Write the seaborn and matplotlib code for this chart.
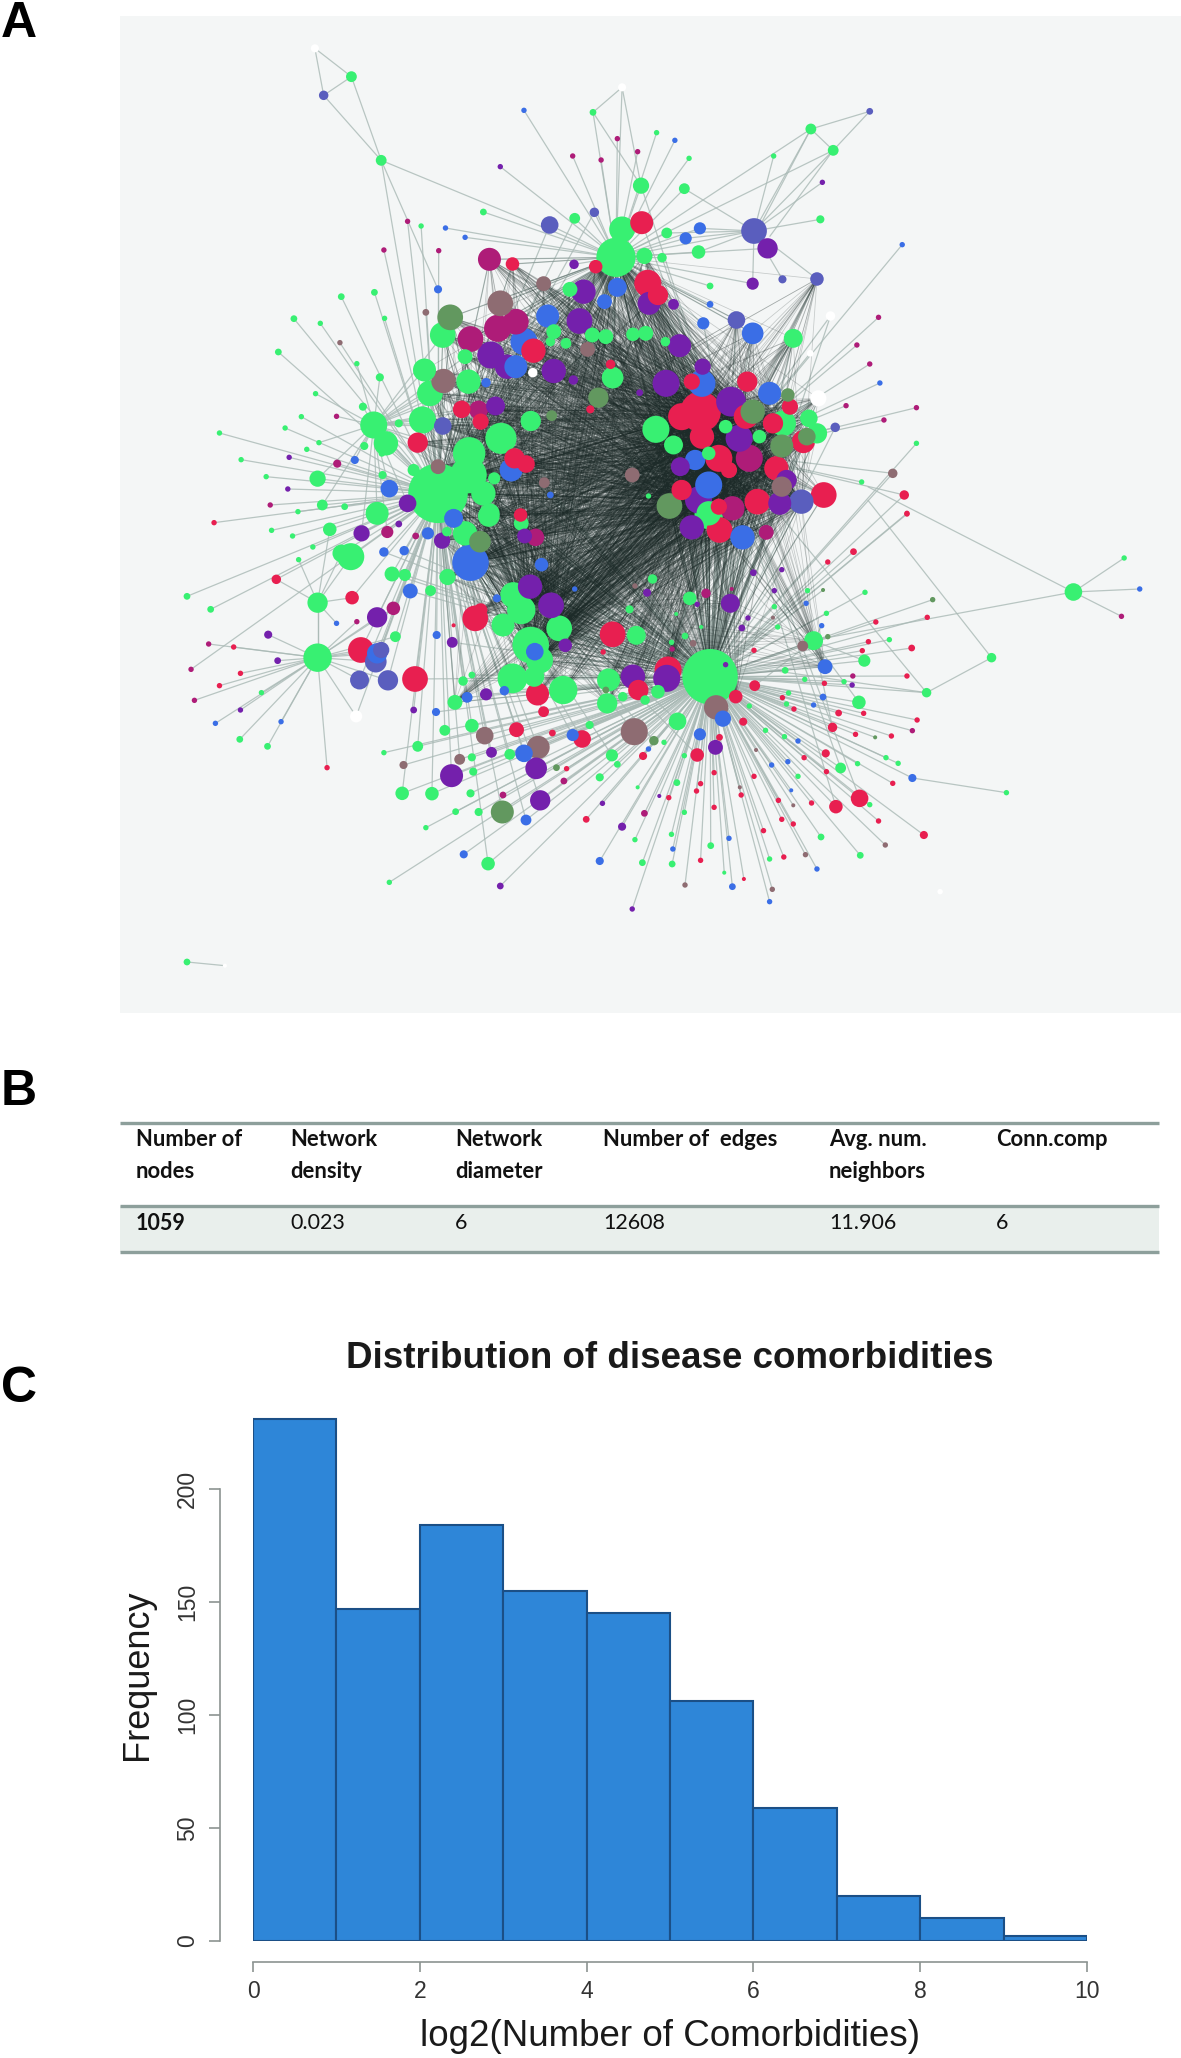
import numpy as np
import pandas as pd
import matplotlib.pyplot as plt
import seaborn as sns
from matplotlib.collections import LineCollection

W, H = 1181, 2058

# network nodes as (x, y, diameter) in layout units, upper half of the layout
green_up = [(342,170,16),(386,421,16),(699,277,10),(793,338,8),(841,415,8),(770,497,24),(834,506,16),(1021,327,16),(1054,391,16),(966,408,8),
    (1035,598,12),(537,576,10),(445,618,8),(672,595,16),(742,628,38),(733,712,58),(808,639,16),(775,708,24),(801,713,14),(855,696,20),
    (665,808,22),(872,798,10),(327,830,10),(376,817,10),(257,896,10),(296,910,8),(391,895,8),(234,996,10),(350,1031,8),(384,1072,12),
    (289,1121,8),(359,1160,12),(268,1190,8),(244,1224,8),(147,1239,8),(179,1319,8),(294,1268,8),(276,1288,8),(361,1278,12),(387,1300,10),
    (412,1210,12),(375,1215,40),(393,1270,36),(477,945,38),(510,1010,22),(450,1050,34),(515,1085,36),(458,1120,38),(447,1200,40),(563,1255,46),
    (607,1203,30),(516,1300,48),(515,1365,54),(553,1375,18),(537,1420,36),(470,1420,88),(292,1376,24),(216,1370,8),(388,1365,12),(434,1350,18),
    (299,1455,16),(332,1460,10),(263,1475,8),(380,1480,34),(546,1480,30),(641,935,22),(636,965,14),(659,970,16),(698,945,22),(718,950,22),
    (758,943,20),(777,940,22),(806,965,14),(995,955,28),(728,1073,32),(792,1228,40),(818,1275,28),(980,1210,38),(1018,1195,26),(1030,1240,30),
    (1096,1386,8),(1177,1270,8),(781,1428,8),(870,1480,36),(895,1220,20),(945,1250,20),(870,1300,20)]
red_up = [(771,608,34),(580,732,20),(703,740,20),(780,790,40),(795,825,30),(725,1033,14),(611,992,36),(695,1168,12),(505,1168,26),(533,1205,24),
    (440,1268,30),(583,1315,30),(600,1332,26),(927,1085,30),(845,1085,24),(858,1175,60),(830,1190,40),(885,1315,40),(860,1250,36),(925,1190,36),
    (965,1210,30),(990,1160,24),(1010,1265,34),(942,1445,38),(1040,1425,38),(1159,1425,14),(1163,1480,8),(970,1345,36),(900,1350,24),(830,1410,30),(885,1460,24)]
magenta_up = [(546,718,34),(390,690,8),(471,692,8),(425,604,8),(735,356,8),(669,408,8),(711,420,8),(765,395,8),(518,957,38),(558,925,40),
    (585,905,38),(320,1189,8),(321,1331,12),(222,1455,8),(1121,892,8),(1089,975,8),(1108,1032,8),(1177,1163,8),(1129,1200,8),(930,1315,40),
    (905,1465,36),(1073,1157,8),(530,1170,28)]
purple_up = [(957,685,30),(562,440,8),(1038,487,8),(935,791,18),(818,853,16),(782,850,34),(685,815,36),(679,903,38),(671,733,14),(827,977,34),
    (548,1005,40),(572,1040,36),(641,1053,36),(670,1080,14),(807,1090,40),(861,1040,24),(903,1145,44),(768,1118,10),(555,1158,28),(250,1312,8),
    (248,1407,8),(425,1450,26),(915,1255,40),(828,1340,28),(855,1440,40),(975,1450,34),(985,1380,30)]
blue_up = [(597,271,8),(820,361,8),(857,625,18),(836,655,18),(481,624,8),(510,652,8),(1156,674,8),(470,808,12),(735,802,28),(716,845,22),
    (872,853,10),(632,888,34),(862,910,18),(935,940,32),(597,965,40),(585,1040,34),(541,1088,14),(860,1090,40),(960,1120,34),(1123,1089,8),
    (398,1406,26),(347,1320,12),(578,1350,34),(636,1425,10),(850,1320,30),(870,1395,40)]
slate_up = [(301,226,14),(1108,274,10),(635,615,26),(701,577,14),(937,633,38),(979,778,12),(1030,777,20),(911,900,26),(477,1218,26),(1057,1222,14),(1007,1445,36)]
brown_up = [(626,791,22),(562,850,38),(452,877,10),(325,968,8),(691,988,22),(478,1083,36),(470,1340,22),(757,1365,22),(627,1388,16),(1142,1360,14),(978,1400,30)]
olive_up = [(488,892,38),(707,1133,30),(638,1187,16),(935,1175,36),(978,1278,34),(987,1125,20),(1015,1250,26),(812,1458,38)]
white_up = [(288,85,12),(742,202,12),(1050,888,14),(1020,1000,10),(1032,1135,24),(610,1058,14)]

# lower half of the layout, y counted from LOW_OFFSET
LOW_OFFSET = 1440
green_low = [(1409,276,26),(1484,174,8),(1288,473,14),(1192,578,14),(1310,878,8),(1101,277,8),(1016,272,8),(967,320,8),(1044,340,8),(972,381,8),
    (1137,419,8),(1025,422,28),(1100,482,18),(1012,538,8),(983,511,10),(1070,545,8),(1092,607,20),(988,579,8),(985,612,8),(930,618,8),
    (872,530,82),(842,295,20),(787,237,14),(753,328,12),(822,342,6),(859,381,6),(835,408,10),(815,427,8),(763,406,28),(722,540,34),
    (720,610,30),(655,570,42),(649,385,38),(607,435,54),(620,480,40),(580,535,44),(612,530,30),(593,330,42),(566,375,34),(581,285,38),
    (484,231,24),(459,272,16),(402,222,22),(421,225,18),(341,170,40),(327,160,26),(310,88,20),(255,108,8),(224,91,8),(285,141,8),
    (264,179,8),(99,289,10),(134,328,10),(292,308,30),(292,473,42),(209,578,8),(177,718,10),(218,739,10),(390,758,8),(407,410,16),
    (507,543,14),(520,525,10),(495,607,22),(480,691,16),(520,677,20),(440,739,16),(417,880,20),(461,881,20),(522,815,12),(520,772,12),
    (518,880,12),(496,935,10),(530,936,12),(452,983,8),(398,1147,8),(544,1091,20),(576,763,16),(727,766,18),(735,793,10),(709,832,12),
    (765,862,6),(804,727,8),(824,664,26),(694,675,12),(743,590,14),(834,767,8),(823,848,10),(834,937,8),(815,1003,8),(873,1037,10),
    (761,1019,8),(772,1088,10),(816,1092,10),(893,1118,6),(960,1077,8),(1036,1011,10),(1094,1066,10),(1108,914,8),(1065,804,16),(1002,829,8),
    (982,710,8),(954,691,8),(1132,773,8),(1150,790,8),(1090,791,8),(795,575,20),(776,600,14),(510,100,36),(483,95,14),(545,48,32),(593,70,22),(870,45,42),(99,1386,10)]
red_low = [(886,90,38),(1163,42,8),(1084,155,10),(1046,186,8),(592,45,20),(231,238,14),(343,293,20),(139,68,8),(525,355,38),(533,330,20),
    (728,403,38),(714,456,8),(493,376,6),(356,450,38),(436,537,38),(617,582,34),(766,570,30),(810,510,40),(938,557,16),(910,590,20),
    (921,665,12),(626,635,16),(683,717,26),(586,689,22),(773,768,12),(886,712,10),(853,765,20),(1041,550,8),(1117,366,8),(1193,352,8),
    (1170,444,10),(1106,425,8),(1097,452,8),(1163,528,8),(979,593,8),(996,627,8),(1062,639,10),(1099,640,8),(1053,682,14),(1178,660,8),
    (1087,703,8),(1140,708,8),(1043,760,12),(1011,773,8),(1044,815,8),(1142,850,8),(1093,895,26),(1058,920,20),(1022,909,8),(973,901,8),
    (1121,963,8),(1188,1005,12),(995,972,8),(978,958,8),(951,992,8),(981,1071,8),(858,1081,8),(922,1137,6),(878,922,8),(937,829,8),
    (918,885,8),(858,851,8),(852,873,8),(878,818,8),(811,893,8),(689,958,10),(660,806,8),(306,803,8),(147,557,8),(178,520,8),(168,441,8),(937,451,8),(639,699,10)]
magenta_low = [(395,96,18),(437,108,10),(955,97,22),(614,112,26),(404,325,20),(350,365,8),(105,508,8),(110,601,8),(131,432,8),(1171,692,8),
    (1083,528,8),(866,280,14),(904,267,6),(816,447,8),(775,940,10),(656,843,10),(566,885,10),(1480,349,8)]
purple_low = [(357,100,24),(412,72,10),(476,122,24),(598,108,22),(845,82,36),(606,260,36),(637,316,38),(658,436,20),(758,530,36),(808,535,40),
    (880,742,22),(549,757,16),(541,583,18),(490,827,34),(615,805,32),(621,901,30),(434,630,10),(491,427,16),(380,352,30),(219,404,12),
    (233,482,10),(178,630,8),(936,218,10),(978,209,8),(967,272,8),(902,310,28),(779,278,12),(853,313,8),(928,354,8),(919,384,10),
    (895,494,8),(562,1158,10),(757,1227,8),(742,980,12),(713,910,8),(797,888,6),(1082,555,8)]
blue_low = [(920,112,36),(493,55,28),(455,100,18),(390,156,14),(420,152,14),(518,188,54),(623,194,20),(429,273,22),(557,295,12),(613,455,26),
    (468,405,12),(320,370,8),(380,460,30),(513,592,16),(467,636,12),(568,572,14),(669,705,18),(597,760,26),(857,703,18),(891,656,24),
    (781,747,8),(1042,500,22),(1039,591,10),(1025,615,8),(1014,310,8),(1037,377,8),(1171,834,12),(1002,723,8),(987,785,8),(963,795,8),
    (992,871,6),(900,1015,8),(817,1047,8),(1030,1107,8),(905,1160,10),(960,1205,8),(709,1083,12),(600,960,16),(508,1063,12),(141,670,8),
    (238,665,8),(1507,267,8),(672,267,8)]
slate_low = [(354,540,28),(396,541,30),(378,485,32),(386,450,24)]
brown_low = [(1009,438,16),(965,353,6),(881,622,36),(760,695,40),(539,707,26),(618,742,34),(502,778,16),(419,795,12),(1013,1064,8),(1131,1035,8),
    (964,1168,8),(835,1155,8),(916,862,6),(995,916,6),(940,750,6),(761,258,8),(847,430,10)]
olive_low = [(532,125,32),(565,936,34),(789,722,14),(1201,299,8),(1116,712,6),(718,570,10),(645,803,10),(1046,410,8),(1039,270,6)]
white_low = [(349,649,18),(1212,1175,8),(155,1397,6)]

node_colors = {"green": "#38f072", "red": "#e81f50", "magenta": "#ae1c78", "purple": "#7420ac",
               "blue": "#3a6ee6", "slate": "#5a5ebe", "brown": "#8e6c72", "olive": "#62985f", "white": "#ffffff"}

# hubs that the small nodes hang from: x, y, pull
hub_x = [872, 470, 733, 292, 292, 900, 375, 937, 1025]
hub_y = [1970, 1420, 712, 1913, 1748, 1300, 1215, 633, 1862]
hub_pull = [3.0, 2.2, 1.5, 0.9, 0.7, 1.8, 1.0, 0.7, 0.6]

# small outlying pieces drawn by hand
extra_edges = [((288,85),(342,170)),((288,85),(301,226)),((301,226),(342,170)),((301,226),(386,421)),((342,170),(386,421)),((386,421),(470,808)),
    ((742,202),(699,277)),((742,202),(770,497)),((699,277),(770,497)),((1108,274),(1021,327)),((1108,274),(1054,391)),((1021,327),(1054,391)),
    ((1021,327),(945,620)),((1054,391),(960,650)),((1409,1716),(1484,1614)),((1409,1716),(1507,1707)),((1409,1716),(1480,1789)),((1409,1716),(1000,1870)),
    ((1409,1716),(1105,1400)),((1288,1913),(1192,2018)),((1288,1913),(1105,1440)),((1192,2018),(960,1950)),((1171,2274),(1310,2318)),((99,2826),(155,2837))]
detached = [(288,85),(342,170),(301,226),(1409,1716),(1484,1614),(1507,1707),(1480,1789),(1288,1913),(1310,2318),(99,2826),(155,2837),(1108,274)]

# table B
table_headers = [["Number of", "nodes"], ["Network", "density"], ["Network", "diameter"], ["Number of  edges"], ["Avg. num.", "neighbors"], ["Conn.comp"]]
table_values = ["1059", "0.023", "6", "12608", "11.906", "6"]
table_x = [136, 290, 455, 603, 829, 996]

# histogram C
bin_edges = [0, 1, 2, 3, 4, 5, 6, 7, 8, 9, 10]
frequency = [231, 147, 184, 155, 145, 106, 59, 20, 10, 2]

sns.set_theme(style="white")
plt.rcParams["font.family"] = ["Liberation Sans", "DejaVu Sans"]

rows = []
for name, up, low in [("green", green_up, green_low), ("red", red_up, red_low), ("magenta", magenta_up, magenta_low),
                      ("purple", purple_up, purple_low), ("blue", blue_up, blue_low), ("slate", slate_up, slate_low),
                      ("brown", brown_up, brown_low), ("olive", olive_up, olive_low), ("white", white_up, white_low)]:
    for x, y, d in up:
        rows.append((name, x, y, d))
    for x, y, d in low:
        rows.append((name, x, y + LOW_OFFSET, d))
nodes = pd.DataFrame(rows, columns=["group", "x", "y", "d"])
nodes["area"] = (nodes["d"] / 1.478 * 0.72) ** 2
nodes = nodes.sort_values("d", ascending=False, kind="stable")

# layout units are squeezed differently in x and y
SX, SY = 1.478, 3.0
hubs = np.column_stack([np.array(hub_x) / SX, np.array(hub_y) / SY])
pull = np.array(hub_pull)
light_edges = []
for row in nodes.itertuples():
    if (row.x, row.y) in detached or row.group == "white" and row.y > 2300:
        continue
    pos = np.array([row.x / SX, row.y / SY])
    dist = np.hypot(*(hubs - pos).T) / pull
    for k in np.argsort(dist)[:2 if row.d >= 14 else 1]:
        light_edges.append([(row.x, row.y), (hub_x[k], hub_y[k])])
light_edges += [list(e) for e in extra_edges]

# the dense middle: every core node fans out to the heavy nodes
core = nodes[(nodes["d"] >= 20) & nodes["x"].between(440, 1060) & nodes["y"].between(700, 2060)]
heavy = core[(core["x"].between(800, 1010) & core["y"].between(1100, 1500) & (core["d"] >= 36))
             | (core["d"] >= 54) | (core["x"].between(590, 660) & core["y"].between(1700, 1980) & (core["d"] >= 38))]
dark_edges = []
for a in heavy[["x", "y"]].to_numpy():
    for b in core[["x", "y"]].to_numpy():
        dark_edges.append([tuple(a), tuple(b)])


def rect(x0, y0, x1, y1):
    return [x0 / W, 1 - y1 / H, (x1 - x0) / W, (y1 - y0) / H]


fig = plt.figure(figsize=(W / 100, H / 100), dpi=100, facecolor="white")

# panel A
ax_a = fig.add_axes(rect(120, 16, 1181, 1013))
ax_a.set_facecolor("#f4f6f6")
ax_a.add_collection(LineCollection(light_edges, colors="#a9b9b5", linewidths=0.9, alpha=0.8, zorder=1))
ax_a.add_collection(LineCollection(dark_edges, colors="#1d2b29", linewidths=0.55, alpha=0.22, zorder=1))
sns.scatterplot(data=nodes, x="x", y="y", hue="group", palette=node_colors, size="area",
                sizes=(nodes["area"].min(), nodes["area"].max()), linewidth=0, legend=False, ax=ax_a, zorder=2)
ax_a.set_xlim(0, 1568)
ax_a.set_ylim(2979, -12)
ax_a.set_xlabel("")
ax_a.set_ylabel("")
ax_a.set_xticks([])
ax_a.set_yticks([])
sns.despine(ax=ax_a, left=True, bottom=True)

# panel B, drawn in pixel units
ax_b = fig.add_axes(rect(0, 1100, W, 1270))
ax_b.set_xlim(0, W)
ax_b.set_ylim(1270, 1100)
ax_b.axis("off")
ax_b.axhspan(1206, 1252, xmin=120 / W, xmax=1159 / W, color="#e9efec", lw=0)
for line_y in [1123, 1206, 1252]:
    ax_b.plot([120, 1159], [line_y, line_y], color="#8d9f9b", lw=2.4, solid_capstyle="butt")
for x, head, value in zip(table_x, table_headers, table_values):
    for n, part in enumerate(head):
        ax_b.text(x, 1140 + n * 32, part, family="Lato", weight="bold", fontsize=15.8, color="#111111", va="center")
    ax_b.text(x, 1223, value, family="Lato", weight="bold" if value == "1059" else "normal", fontsize=15.5, color="#111111", va="center")

# panel C
ax_c = fig.add_axes(rect(253, 1415, 1087, 1941))
sns.histplot(x=np.array(bin_edges[:-1]) + 0.5, weights=frequency, bins=bin_edges, color="#2e86d8", alpha=1,
             edgecolor="#1b4f86", linewidth=1.5, ax=ax_c)
ax_c.set_xlim(0, 10)
ax_c.set_ylim(0, 526 / 2.26)
ax_c.set_facecolor("none")
sns.despine(ax=ax_c)
for side, off in [("left", 24), ("bottom", 15)]:
    ax_c.spines[side].set_position(("outward", off))
    ax_c.spines[side].set_color("#8c9491")
    ax_c.spines[side].set_linewidth(1.2)
ax_c.spines["left"].set_bounds(0, 200)
ax_c.spines["bottom"].set_bounds(0, 10)
ax_c.set_xticks([0, 2, 4, 6, 8, 10])
ax_c.set_yticks([0, 50, 100, 150, 200])
ax_c.tick_params(axis="x", bottom=True, length=7, width=1.2, color="#8c9491", labelsize=16.5, labelcolor="#333333", pad=6)
ax_c.tick_params(axis="y", left=True, length=8, width=1.2, color="#8c9491", labelsize=16.5, labelcolor="#333333", pad=7)
for lab in ax_c.get_yticklabels():
    lab.set_rotation(90)
    lab.set_va("center")
ax_c.set_xlabel("")
ax_c.set_ylabel("")

fig.text(670 / W, 1 - 1358 / H, "Distribution of disease comorbidities", fontsize=26.5, weight="bold", color="#1a1a1a", ha="center", va="center")
fig.text(670 / W, 1 - 2037 / H, "log2(Number of Comorbidities)", fontsize=26.5, color="#1a1a1a", ha="center", va="center")
fig.text(138 / W, 1 - 1675 / H, "Frequency", fontsize=26, rotation=90, color="#1a1a1a", ha="center", va="center")

# panel letters
for letter, ly in [("A", 24), ("B", 1092), ("C", 1389)]:
    fig.text(1 / W, 1 - ly / H, letter, fontsize=36, weight="bold", color="black", ha="left", va="center")

fig.savefig("out.png", dpi=100)
